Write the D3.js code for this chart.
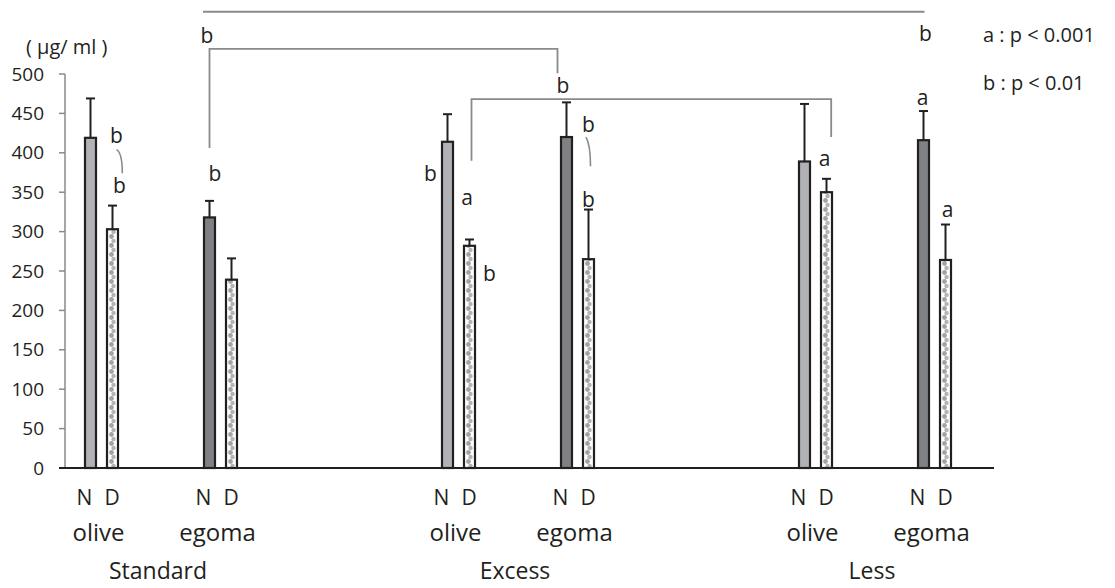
<!DOCTYPE html>
<html><head><meta charset="utf-8">
<script src="https://cdn.jsdelivr.net/npm/d3@7"></script>
<style>body{margin:0;background:#fff}svg{display:block}text{font-family:"Open Sans",sans-serif;fill:#231f20}</style>
</head><body><svg id="c" width="1115" height="588"></svg>
<script>
// ---- data ----
const groups = ["Standard", "Excess", "Less"];
const oils = ["olive", "egoma"];
const subLabels = ["N", "D"];
// slots: 8 category positions, blanks between diet groups
const slots = ["Standard-olive", "Standard-egoma", "gap1", "Excess-olive", "Excess-egoma", "gap2", "Less-olive", "Less-egoma"];
const barSlots = ["Standard-olive", "Standard-egoma", "Excess-olive", "Excess-egoma", "Less-olive", "Less-egoma"];
const nMean = [419, 318, 414, 420, 389, 416];
const nErr  = [50, 21, 35, 44, 73, 37];
const dMean = [303, 239, 282, 265, 350, 264];
const dErr  = [30, 27, 8, 63, 17, 45];
const yTicks = [0, 50, 100, 150, 200, 250, 300, 350, 400, 450, 500];
const unitLabel = "( μg/ ml )";
const legendLines = ["a : p < 0.001", "b : p < 0.01"];
// significance letters: [bar slot index, series, letter, value level]
const sigLetters = [
  [0, "D", "b", 412], [0, "D", "b", 349], [1, "N", "b", 364], [1, "N", "b", 539],
  [3, "N", "b", 476], [5, "N", "b", 542], [2, "N", "b", 364], [2, "D", "a", 334],
  [2, "D", "b", 237], [3, "D", "b", 426], [3, "D", "b", 331], [4, "D", "a", 383],
  [5, "N", "a", 461], [5, "D", "a", 318]
];

// ---- layout ----
const svg = d3.select("#c");
const y = d3.scaleLinear().domain([0, 500]).range([468, 74]);
const x = d3.scaleBand().domain(slots).range([42, 994]).paddingInner(0).paddingOuter(0);
const sub = d3.scalePoint().domain(subLabels).range([48.5, 70.5]);
const bw = 11;
const cx = (i, s) => x(barSlots[i]) + sub(s);

const defs = svg.append("defs");
// axes
svg.append("line").attr("x1", 65).attr("x2", 65).attr("y1", y(500)).attr("y2", y(0))
  .attr("stroke", "#8a8a8a").attr("stroke-width", 1.5);
svg.selectAll(".yt").data(yTicks).join("line")
  .attr("x1", 59).attr("x2", 65).attr("y1", d => y(d)).attr("y2", d => y(d))
  .attr("stroke", "#8a8a8a").attr("stroke-width", 1.5);
svg.selectAll(".yl").data(yTicks).join("text")
  .attr("x", 44).attr("y", d => y(d) + 6.5).attr("text-anchor", "end")
  .attr("font-size", 19).text(d => d);
svg.append("text").attr("x", 26).attr("y", 54).attr("font-size", 20).text(unitLabel);

// bars
const bars = [];
barSlots.forEach((s, i) => {
  bars.push({i, s: "N", v: nMean[i], e: nErr[i], fill: i % 2 === 0 ? "#b1b2b6" : "#808185"});
  bars.push({i, s: "D", v: dMean[i], e: dErr[i]});
});
bars.filter(b => b.s === "D").forEach(b => {
  const p = defs.append("pattern").attr("id", "dots" + b.i).attr("patternUnits", "userSpaceOnUse")
    .attr("x", cx(b.i, "D") - bw / 2).attr("y", 0).attr("width", bw).attr("height", 9);
  p.append("rect").attr("width", bw).attr("height", 9).attr("fill", "#fff");
  p.append("circle").attr("cx", 4.5).attr("cy", 2.5).attr("r", 2.4).attr("fill", "#a2a2a2");
  p.append("circle").attr("cx", 6.5).attr("cy", 7).attr("r", 2.2).attr("fill", "#b4b4b4");
  b.fill = "url(#dots" + b.i + ")";
});
// error bars
svg.selectAll(".eb").data(bars).join("line")
  .attr("x1", d => cx(d.i, d.s)).attr("x2", d => cx(d.i, d.s))
  .attr("y1", d => y(d.v)).attr("y2", d => y(d.v + d.e))
  .attr("stroke", "#231f20").attr("stroke-width", 2);
svg.selectAll(".ec").data(bars).join("line")
  .attr("x1", d => cx(d.i, d.s) - 4.5).attr("x2", d => cx(d.i, d.s) + 4.5)
  .attr("y1", d => y(d.v + d.e)).attr("y2", d => y(d.v + d.e))
  .attr("stroke", "#231f20").attr("stroke-width", 2);
svg.selectAll(".bar").data(bars).join("rect")
  .attr("x", d => cx(d.i, d.s) - bw / 2).attr("width", bw)
  .attr("y", d => y(d.v)).attr("height", d => y(0) - y(d.v))
  .attr("fill", d => d.fill).attr("stroke", "#231f20").attr("stroke-width", 2.2);

// x axis line
svg.append("line").attr("x1", 59).attr("x2", 994).attr("y1", y(0)).attr("y2", y(0))
  .attr("stroke", "#231f20").attr("stroke-width", 2.2);

// category labels
barSlots.forEach((s, i) => {
  svg.append("text").attr("x", cx(i, "N") - 6).attr("y", 505).attr("text-anchor", "middle")
    .attr("font-size", 21).text("N");
  svg.append("text").attr("x", cx(i, "D") - 0.5).attr("y", 505).attr("text-anchor", "middle")
    .attr("font-size", 21).text("D");
  svg.append("text").attr("x", x(s) + 59.5 - 3).attr("y", 541).attr("text-anchor", "middle")
    .attr("font-size", 24).text(oils[i % 2]);
});
groups.forEach((g, k) => {
  const mid = (x(barSlots[2 * k]) + x(barSlots[2 * k + 1])) / 2 + 59.5 - 3;
  svg.append("text").attr("x", mid).attr("y", 579).attr("text-anchor", "middle")
    .attr("font-size", 23).text(g);
});

// brackets
const gray = "#8a8a8a";
const path = d3.path();
path.moveTo(cx(1, "N") - 6.5, y(579)); path.lineTo(cx(5, "N") + 1, y(579));
path.moveTo(cx(1, "N"), y(406)); path.lineTo(cx(1, "N"), y(532));
path.lineTo(cx(3, "N") - 9, y(532)); path.lineTo(cx(3, "N") - 9, y(501));
path.moveTo(cx(2, "D") + 2, y(390)); path.lineTo(cx(2, "D") + 2, y(468));
path.lineTo(cx(4, "D") + 4.7, y(468)); path.lineTo(cx(4, "D") + 4.7, y(420));
svg.append("path").attr("d", path.toString()).attr("fill", "none").attr("stroke", gray).attr("stroke-width", 1.8);
// small arcs
const arcs = d3.path();
arcs.moveTo(cx(0, "D") + 4, y(404)); arcs.quadraticCurveTo(cx(0, "D") + 9.8, y(400), cx(0, "D") + 9.8, y(374));
arcs.moveTo(cx(3, "D") - 2.5, y(420)); arcs.quadraticCurveTo(cx(3, "D") + 2, y(410), cx(3, "D") + 2, y(383));
svg.append("path").attr("d", arcs.toString()).attr("fill", "none").attr("stroke", gray).attr("stroke-width", 1.6);

// significance letters
const letterDx = [4, 7, 5.5, -2.5, -3.5, 2, -17, -2.3, 20, 0, 0, -2, -1, 2];
svg.selectAll(".sig").data(sigLetters).join("text")
  .attr("x", (d, k) => cx(d[0], d[1]) + letterDx[k]).attr("y", d => y(d[3]))
  .attr("text-anchor", "middle").attr("font-size", 21).text(d => d[2]);

// legend
svg.selectAll(".lg").data(legendLines).join("text")
  .attr("x", 983).attr("y", (d, k) => 42 + k * 48).attr("font-size", 20).text(d => d);
</script></body></html>
